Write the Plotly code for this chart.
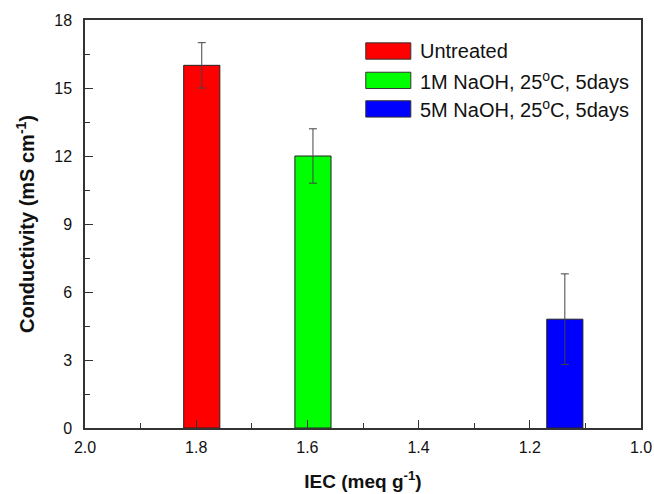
import plotly.graph_objects as go

# Data
series_names = ["Untreated", "1M NaOH, 25<sup>o</sup>C, 5days", "5M NaOH, 25<sup>o</sup>C, 5days"]
iec = [1.79, 1.59, 1.137]
conductivity = [16.0, 12.0, 4.8]
errors = [1.0, 1.2, 2.0]
colors = ["#ff0000", "#00ff00", "#0000ff"]
x_ticks = [2.0, 1.8, 1.6, 1.4, 1.2, 1.0]
y_ticks = [0, 3, 6, 9, 12, 15, 18]

FONT = "Liberation Sans, Arial, sans-serif"
AX = "#333333"

fig = go.Figure()
for name, x, y, e, c in zip(series_names, iec, conductivity, errors, colors):
    fig.add_trace(go.Bar(
        x=[x], y=[y], width=0.065, name=name,
        marker=dict(color=c, line=dict(color="#222222", width=1)),
        error_y=dict(type="data", array=[e], visible=True, color="#444444", thickness=1, width=4),
        showlegend=False,
    ))

# custom legend with large swatches
row_y = [0.924, 0.852, 0.782]
for name, c, ry in zip(series_names, colors, row_y):
    fig.add_shape(type="rect", xref="paper", yref="paper",
                  x0=0.505, x1=0.586, y0=ry - 0.02, y1=ry + 0.02,
                  fillcolor=c, line=dict(color="#333333", width=1))
    fig.add_annotation(xref="paper", yref="paper", x=0.599, y=ry, text=name,
                       showarrow=False, xanchor="left", yanchor="middle",
                       font=dict(family=FONT, size=20, color="#111111"))

fig.update_layout(
    width=654, height=494,
    margin=dict(l=85, r=13, t=20, b=66, autoexpand=False),
    paper_bgcolor="white", plot_bgcolor="white",
    barmode="overlay",
    font=dict(family=FONT, color="#111111"),
)
fig.update_xaxes(
    range=[2.0, 1.0], tickvals=x_ticks, ticktext=[f"{v:.1f}" for v in x_ticks],
    ticks="inside", ticklen=8, tickwidth=1.2, tickcolor=AX,
    minor=dict(dtick=0.1, ticks="inside", ticklen=5, tickwidth=1.2, tickcolor=AX),
    showline=True, linecolor=AX, linewidth=1.5, mirror=True, showgrid=False, zeroline=False,
    tickfont=dict(family=FONT, size=16, color="#111111"), ticklabelstandoff=4,
    ticklabeloverflow="allow", automargin=False,
    title=dict(text="<b>IEC (meq g<sup>-1</sup>)</b>", font=dict(family=FONT, size=19, color="#111111"), standoff=20),
)
fig.update_yaxes(
    range=[0, 18], tickvals=y_ticks,
    ticks="inside", ticklen=8, tickwidth=1.2, tickcolor=AX,
    minor=dict(dtick=1.5, ticks="inside", ticklen=5, tickwidth=1.2, tickcolor=AX),
    showline=True, linecolor=AX, linewidth=1.5, mirror=True, showgrid=False, zeroline=False,
    tickfont=dict(family=FONT, size=16, color="#111111"), ticklabelstandoff=8,
    automargin=False,
    title=dict(text="<b>Conductivity (mS cm<sup>-1</sup>)</b>", font=dict(family=FONT, size=20, color="#111111"), standoff=14),
)

fig.write_html("out.html", config={"displayModeBar": False},
               post_script="document.body.style.margin='0';document.body.style.overflow='hidden';")
